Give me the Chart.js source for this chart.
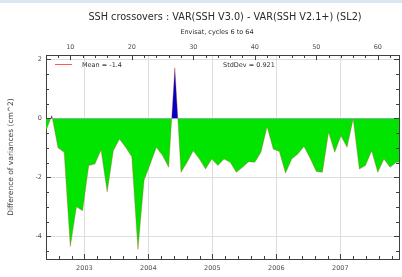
<!DOCTYPE html>
<html>
<head>
<meta charset="utf-8">
<script src="https://cdn.jsdelivr.net/npm/chart.js@4"></script>
<style>
  html, body { margin: 0; padding: 0; background: #ffffff; }
  #c { display: block; }
</style>
</head>
<body>
<canvas id="c" width="402" height="277"></canvas>
<script>
// ---- data ----
const cycles = [6,7,8,9,10,11,12,13,14,15,16,17,18,19,20,21,22,23,24,25,26,27,28,29,30,31,32,33,34,35,
                36,37,38,39,40,41,42,43,44,45,46,47,48,49,50,51,52,53,54,55,56,57,58,59,60,61,62,63,64];
const varDiff = [-0.45,0.10,-1.00,-1.15,-4.35,-3.00,-3.13,-1.60,-1.55,-1.07,-2.50,-1.10,-0.70,-0.98,-1.30,
                 -4.45,-2.10,-1.55,-0.98,-1.26,-1.66,1.72,-1.83,-1.49,-1.10,-1.38,-1.72,-1.38,-1.60,-1.38,
                 -1.49,-1.83,-1.66,-1.47,-1.49,-1.15,-0.28,-1.04,-1.12,-1.86,-1.38,-1.21,-0.95,-1.35,-1.80,
                 -1.83,-0.47,-1.15,-0.59,-0.98,-0.02,-1.72,-1.60,-1.10,-1.83,-1.38,-1.66,-1.49,-1.49];
const cycleTickLabels = [10,20,30,40,50,60];
const yearTickLabels = [2003,2004,2005,2006,2007];
const yTickLabels = [-4,-2,0,2];
const meanValue = -1.4;
const stdDevValue = 0.921;
const titleText = "SSH crossovers : VAR(SSH V3.0) - VAR(SSH V2.1+) (SL2)";
const subtitleText = "Envisat, cycles 6 to 64";
const yTitleText = "Difference of variances (cm^2)";

// ---- axis ranges ----
const cycleMin = 6.05, cycleMax = 63.45;
const yearMin = 2002.40, yearMax = 2007.917;
const yMin = -4.77, yMax = 2.15;

const FONT = "'DejaVu Sans', 'Liberation Sans', sans-serif";
const tickFont = { family: FONT, size: 6.5 };
const labelColor = '#505050';
const axisColor = '#404040';
const gridColor = '#dedede';

function stepTicks(lo, hi, step) {
  const out = [];
  for (let v = Math.ceil(lo / step - 1e-9) * step; v <= hi + 1e-9; v += step) {
    out.push({ value: Math.round(v * 1000) / 1000 });
  }
  return out;
}
const isInt = v => Math.abs(v - Math.round(v)) < 1e-6;

const decorPlugin = {
  id: 'decor',
  beforeDraw(chart) {
    const ctx = chart.ctx;
    ctx.save();
    ctx.fillStyle = '#ffffff';
    ctx.fillRect(0, 0, chart.width, chart.height);
    ctx.fillStyle = '#dbe7f1';
    ctx.fillRect(0, 0, chart.width, 3);
    ctx.restore();
  },
  afterDraw(chart) {
    const ctx = chart.ctx;
    const a = chart.chartArea;
    ctx.save();
    // titles
    ctx.fillStyle = '#2a2a2a';
    ctx.textAlign = 'center';
    ctx.textBaseline = 'middle';
    ctx.font = "9.7px " + FONT;
    ctx.fillText(titleText, 225, 17);
    ctx.font = "6.5px " + FONT;
    ctx.fillText(subtitleText, 217, 32);

    // inward ticks
    ctx.strokeStyle = axisColor;
    ctx.lineWidth = 1;
    const sx = chart.scales.x, sx2 = chart.scales.x2, sy = chart.scales.y;
    ctx.beginPath();
    sx.ticks.forEach(t => {
      const px = Math.round(sx.getPixelForValue(t.value)) + 0.5;
      const len = (t.value % 10 === 0) ? 5 : 3;
      ctx.moveTo(px, a.top); ctx.lineTo(px, a.top + len);
    });
    sx2.ticks.forEach(t => {
      const px = Math.round(sx2.getPixelForValue(t.value)) + 0.5;
      const len = isInt(t.value) ? 5 : 3;
      ctx.moveTo(px, a.bottom); ctx.lineTo(px, a.bottom - len);
    });
    sy.ticks.forEach(t => {
      const py = Math.round(sy.getPixelForValue(t.value)) + 0.5;
      const len = yTickLabels.includes(t.value) ? 5 : 3;
      ctx.moveTo(a.left, py); ctx.lineTo(a.left + len, py);
      ctx.moveTo(a.right, py); ctx.lineTo(a.right - len, py);
    });
    ctx.stroke();

    // legend-like annotations
    ctx.strokeStyle = '#ff5a5a';
    ctx.lineWidth = 1;
    ctx.beginPath();
    ctx.moveTo(55, 64.5); ctx.lineTo(72, 64.5);
    ctx.stroke();
    ctx.fillStyle = '#303030';
    ctx.textAlign = 'left';
    ctx.font = "6.5px " + FONT;
    ctx.fillText('Mean = ' + meanValue, 82, 65);
    ctx.fillText('StdDev = ' + stdDevValue, 223, 65);
    ctx.restore();
  }
};

new Chart(document.getElementById('c'), {
  type: 'line',
  data: {
    datasets: [{
      data: cycles.map((c, i) => ({ x: c, y: varDiff[i] })),
      xAxisID: 'x',
      yAxisID: 'y',
      borderColor: 'rgba(190,70,30,0.55)',
      borderWidth: 0.6,
      pointRadius: 0,
      tension: 0,
      fill: { target: 'origin', above: '#0000c8', below: '#00e400' }
    }]
  },
  options: {
    responsive: false,
    animation: false,
    devicePixelRatio: 1,
    layout: { padding: 0 },
    plugins: { legend: { display: false }, tooltip: { enabled: false }, title: { display: false } },
    scales: {
      x: {
        type: 'linear', position: 'top', min: cycleMin, max: cycleMax,
        afterBuildTicks: s => { s.ticks = stepTicks(cycleMin, cycleMax, 2); },
        afterFit: s => { s.height = 55; },
        ticks: {
          autoSkip: false, maxRotation: 0, padding: 4, font: tickFont, color: labelColor,
          callback: v => cycleTickLabels.includes(v) ? String(v) : ''
        },
        grid: { drawOnChartArea: false, drawTicks: false },
        border: { color: axisColor, width: 1 }
      },
      x2: {
        type: 'linear', position: 'bottom', min: yearMin, max: yearMax,
        afterBuildTicks: s => { s.ticks = stepTicks(yearMin, yearMax, 0.2); },
        afterFit: s => { s.height = 18; },
        ticks: {
          autoSkip: false, maxRotation: 0, padding: 5, font: tickFont, color: labelColor,
          callback: v => (isInt(v) && yearTickLabels.includes(Math.round(v))) ? String(Math.round(v)) : ''
        },
        grid: {
          drawTicks: false,
          color: c => (c.tick && isInt(c.tick.value)) ? gridColor : 'rgba(0,0,0,0)'
        },
        border: { color: axisColor, width: 1 }
      },
      y: {
        type: 'linear', position: 'left', min: yMin, max: yMax,
        afterBuildTicks: s => { s.ticks = stepTicks(yMin, yMax, 0.5); },
        afterFit: s => { s.width = 46; },
        ticks: {
          autoSkip: false, padding: 4, font: tickFont, color: labelColor,
          callback: v => yTickLabels.includes(v) ? String(v) : ''
        },
        title: {
          display: true, text: yTitleText, color: '#404040',
          font: { family: FONT, size: 7.5 }, padding: { top: 6.5, bottom: 0 }
        },
        grid: {
          drawTicks: false,
          color: c => (c.tick && yTickLabels.includes(c.tick.value)) ? gridColor : 'rgba(0,0,0,0)'
        },
        border: { color: axisColor, width: 1 }
      },
      y2: {
        type: 'linear', position: 'right', min: yMin, max: yMax,
        afterBuildTicks: s => { s.ticks = stepTicks(yMin, yMax, 0.5); },
        afterFit: s => { s.width = 3; },
        ticks: { display: false },
        grid: { drawOnChartArea: false, drawTicks: false },
        border: { color: axisColor, width: 1 }
      }
    }
  },
  plugins: [decorPlugin]
});
</script>
</body>
</html>
